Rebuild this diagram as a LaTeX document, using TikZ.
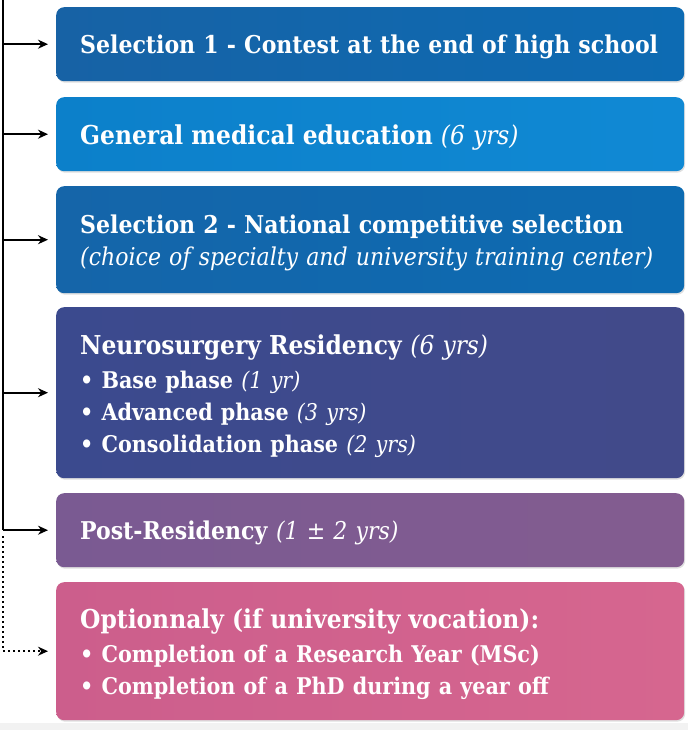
\documentclass[tikz,border=0pt]{standalone}
\usepackage{fontspec}
\setmainfont{DejaVuSerifCondensed}[Extension=.ttf, UprightFont=*, BoldFont=*-Bold, ItalicFont=*-Italic, BoldItalicFont=*-BoldItalic]
\usetikzlibrary{arrows.meta, shadows}
\definecolor{bAl}{HTML}{1762A5}\definecolor{bAr}{HTML}{0D6BB3}
\definecolor{bBl}{HTML}{0C80CA}\definecolor{bBr}{HTML}{1089D4}
\definecolor{bCl}{HTML}{1565A9}\definecolor{bCr}{HTML}{0C6BB2}
\definecolor{bDl}{HTML}{3B4A8E}\definecolor{bDr}{HTML}{424A8A}
\definecolor{bEl}{HTML}{7A5A92}\definecolor{bEr}{HTML}{835C90}
\definecolor{bFl}{HTML}{CC5E8C}\definecolor{bFr}{HTML}{D6668F}
\tikzset{
  stagebox/.style={rounded corners=8pt, anchor=north west, minimum width=628pt,
    inner sep=0pt,
    drop shadow={opacity=0.25, shadow xshift=1pt, shadow yshift=-1.5pt}},
  stagetext/.style={text width=580pt, inner sep=0pt, align=left, text=white,
    font=\fontsize{24.5}{32}\selectfont, yshift=-3pt},
  arr/.style={-{Stealth[length=10pt,width=9pt]}, line width=1.6pt, shorten >=8pt},
  trunkline/.style={line width=1.6pt},
  dotarr/.style={-{Stealth[length=10pt,width=9pt]}, line width=1.5pt,
    dash pattern=on 1.5pt off 3.5pt, shorten >=8pt},
}
\newcommand{\lt}[1]{\textmd{\itshape #1}}
\newcommand{\hdsize}{\fontsize{26}{32}\selectfont}
\newcommand{\blsize}{\fontsize{23}{32}\selectfont}
\begin{document}
\begin{tikzpicture}[x=1pt,y=-1pt]
\useasboundingbox (0,0) rectangle (688,730);
\fill[black!5] (0,723) rectangle (688,730);
\node[stagebox, minimum height=74pt, left color=bAl, right color=bAr] (b1) at (56,7) {};
\node[stagebox, minimum height=74pt, left color=bBl, right color=bBr] (b2) at (56,97) {};
\node[stagebox, minimum height=107pt, left color=bCl, right color=bCr] (b3) at (56,186) {};
\node[stagebox, minimum height=171pt, left color=bDl, right color=bDr] (b4) at (56,307) {};
\node[stagebox, minimum height=74pt, left color=bEl, right color=bEr] (b5) at (56,493) {};
\node[stagebox, minimum height=138pt, left color=bFl, right color=bFr] (b6) at (56,582) {};
\node[stagetext] (t1) at (b1.center)
  {\textbf{Selection 1 - Contest at the end of high school}};
\node[stagetext] (t2) at (b2.center)
  {\hdsize\textbf{General medical education} \lt{(6 yrs)}};
\node[stagetext] (t3) at (b3.center)
  {\textbf{Selection 2 - National competitive selection}\\
   \lt{(choice of specialty and university training center)}};
\node[stagetext] (t4) at (b4.center)
  {{\hdsize\textbf{Neurosurgery Residency} \lt{(6 yrs)}}\\[2pt]
   {\blsize\textbf{\textbullet\ Base phase} \lt{(1 yr)}}\\
   {\blsize\textbf{\textbullet\ Advanced phase} \lt{(3 yrs)}}\\
   {\blsize\textbf{\textbullet\ Consolidation phase} \lt{(2 yrs)}}};
\node[stagetext] (t5) at (b5.center)
  {\textbf{Post-Residency} \lt{(1 ± 2 yrs)}};
\node[stagetext] (t6) at (b6.center)
  {{\hdsize\textbf{Optionnaly (if university vocation):}}\\[2pt]
   {\blsize\textbf{\textbullet\ Completion of a Research Year (MSc)}}\\
   {\blsize\textbf{\textbullet\ Completion of a PhD during a year off}}};
\coordinate (trunk) at (3,0);
\draw[trunkline] (trunk) -- (trunk |- b5.west);
\foreach \b in {b1,b2,b3,b4,b5}
  \draw[arr] (trunk |- \b.west) -- (\b.west);
\draw[dotarr] ([yshift=-6pt]trunk |- b5.west) |- (b6.west);
\end{tikzpicture}
\end{document}
